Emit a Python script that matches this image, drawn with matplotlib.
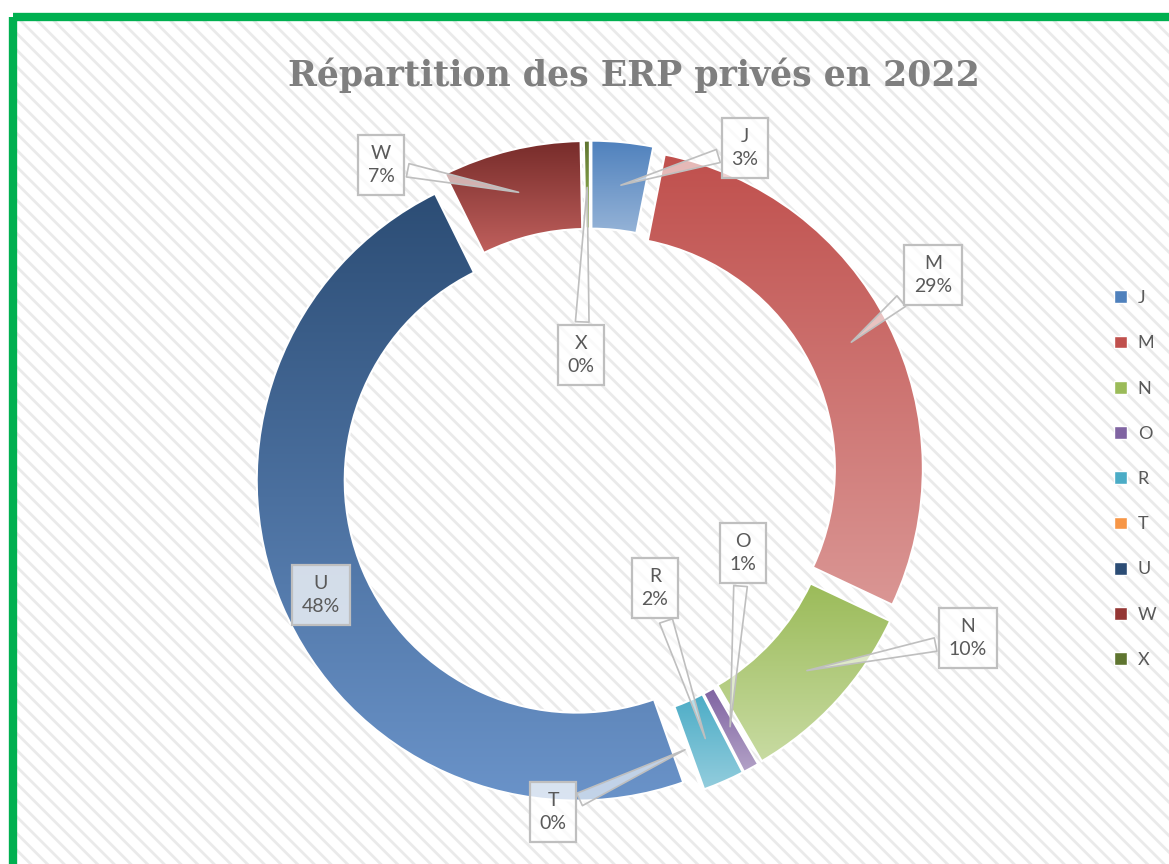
import matplotlib.pyplot as plt
import numpy as np
from matplotlib.colors import to_rgba
from matplotlib.patches import Rectangle, Patch

# données (part en %)
categories = ['J', 'M', 'N', 'O', 'R', 'T', 'U', 'W', 'X']
valeurs = [3.1, 28.9, 9.6, 0.8, 2.1, 0.1, 48.1, 7.0, 0.3]

# dégradés haut -> bas
haut = ['#4F81BD', '#C0504D', '#9BBB59', '#8064A2', '#4BACC6', '#F79646', '#2C4D75', '#772C2A', '#5F7530']
bas = ['#95B3D7', '#DA9694', '#C8DBA2', '#B3A2C7', '#93CDDD', '#FAC090', '#6A93C9', '#C0605D', '#9BBB59']
legende = ['#4F81BD', '#C0504D', '#9BBB59', '#8064A2', '#4BACC6', '#F79646', '#2C4D75', '#943634', '#5F7530']

# position des étiquettes (pixels image)
pos_etiq = {'J': (745, 148), 'M': (933, 275), 'N': (968, 638), 'O': (743, 553),
            'R': (655, 588), 'T': (553, 812), 'U': (321, 595), 'W': (381, 165), 'X': (581, 355)}

W, H = 1169, 864
plt.rcParams['font.family'] = ['Lato', 'DejaVu Sans']
plt.rcParams['hatch.linewidth'] = 2.0

fig = plt.figure(figsize=(W / 100, H / 100), dpi=100)
fig.patch.set_facecolor('white')

# fond hachuré + cadre vert
bg = fig.add_axes([0, 0, 1, 1])
bg.set_xlim(0, W)
bg.set_ylim(H, 0)
bg.axis('off')
bg.add_patch(Rectangle((13, 17), W, H, facecolor='white', edgecolor='#EAEAEA',
                       hatch='\\\\', linewidth=0))
bg.add_patch(Rectangle((13, 17), W, H, facecolor='none', edgecolor='#00B050', linewidth=6))

# anneau
cx, cy, S, echelle = 590, 475, 400, 320
ax = fig.add_axes([(cx - S) / W, (H - cy - S) / H, 2 * S / W, 2 * S / H])
wedges, _ = ax.pie(valeurs, startangle=90, counterclock=False, radius=1.0,
                   explode=[0.045] * len(valeurs),
                   wedgeprops=dict(width=0.275, edgecolor='white', linewidth=1.5))

for w, c0, c1 in zip(wedges, haut, bas):
    ext = w.get_path().get_extents()
    grad = np.linspace(0, 1, 256)[:, None, None]
    img = (1 - grad) * np.array(to_rgba(c0)) + grad * np.array(to_rgba(c1))
    im = ax.imshow(img, extent=(ext.x0, ext.x1, ext.y0, ext.y1), origin='upper',
                   aspect='auto', zorder=1, interpolation='bilinear')
    im.set_clip_path(w)
    w.set_facecolor('none')
    w.set_zorder(2)

ax.set_xlim(-S / echelle, S / echelle)
ax.set_ylim(-S / echelle, S / echelle)
ax.set_aspect('equal')
ax.axis('off')

total = sum(valeurs)
for w, cat, v in zip(wedges, categories, valeurs):
    ang = np.deg2rad((w.theta1 + w.theta2) / 2)
    r = w.r - w.width / 2
    px, py = w.center[0] + r * np.cos(ang), w.center[1] + r * np.sin(ang)
    tx, ty = pos_etiq[cat]
    texte = f"{cat}\n{v / total * 100:.0f}%"
    boite = dict(boxstyle='square,pad=0.5', fc=(1, 1, 1, 0.75), ec='#BFBFBF', lw=1.6)
    if cat == 'U':
        fig.text(tx / W, 1 - ty / H, texte, ha='center', va='center', fontsize=14,
                 color='#595959', linespacing=1.4, bbox=boite, zorder=5)
    else:
        ax.annotate(texte, xy=(px, py), xytext=(tx, H - ty), textcoords='figure pixels',
                    ha='center', va='center', fontsize=14, color='#595959', linespacing=1.4,
                    bbox=boite, zorder=5,
                    arrowprops=dict(arrowstyle='wedge,tail_width=0.7,shrink_factor=0.5',
                                    fc=(1, 1, 1, 0.6), ec='#BFBFBF', lw=1.2))

fig.text(634 / W, 1 - 75 / H, 'Répartition des ERP privés en 2022', ha='center', va='center',
         fontsize=25, fontweight='bold', color='#7F7F7F', family='DejaVu Serif')

poignees = [Patch(facecolor=c, edgecolor='white') for c in legende]
fig.legend(poignees, categories, loc='center left', bbox_to_anchor=(1098 / W, 1 - 479 / H),
           frameon=False, fontsize=13, labelcolor='#595959', handlelength=0.7,
           handleheight=0.7, handletextpad=0.6, labelspacing=1.62)

fig.savefig('out.png', dpi=100)
